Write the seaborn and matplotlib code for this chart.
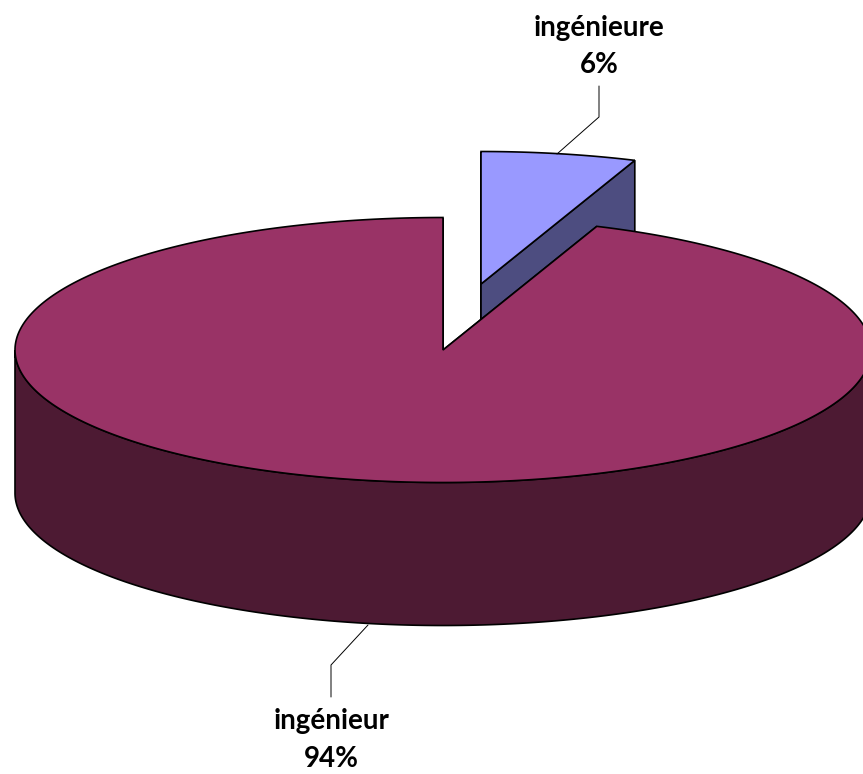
"""3D style pie chart, ingénieur / ingénieure."""

import numpy as np
import matplotlib
matplotlib.use("Agg")
import matplotlib.pyplot as plt
from matplotlib.patches import Polygon
import seaborn as sns

labels = ["ingénieure", "ingénieur"]
shares = [5.85, 94.15]
top_colors = ["#9999FF", "#993366"]
side_colors = ["#4D4D80", "#4D1A33"]

sns.set_theme(style="white")
plt.rcParams["font.family"] = ["Lato", "Liberation Sans", "DejaVu Sans"]

W, H = 863, 774
RX, RY, DEPTH = 428, 132.5, 143
EDGE = "#000000"


def rim(cx, cy, start, end):
    # angles are clockwise from 12 o'clock, in degrees
    t = np.radians(np.linspace(start, end, 400))
    return np.column_stack([cx + RX * np.sin(t), cy - RY * np.cos(t)])


def draw_slice(ax, cx, cy, start, end, top, side):
    arc = rim(cx, cy, start, end)
    shift = np.array([0, DEPTH])
    apex = np.array([[cx, cy]])
    # cut faces first, the outer wall after, top face last
    for a in (arc[0], arc[-1]):
        face = np.array([apex[0], a, a + shift, apex[0] + shift])
        ax.add_patch(Polygon(face, fc=side, ec=EDGE, lw=1.2, zorder=2))
    front = (end > 90) & (start < 270)
    if front:
        wall = rim(cx, cy, max(start, 90), min(end, 270))
        ax.add_patch(Polygon(np.vstack([wall, wall[::-1] + shift]),
                             fc=side, ec=EDGE, lw=1.2, zorder=2))
    ax.add_patch(Polygon(np.vstack([apex, arc]), fc=top, ec=EDGE, lw=1.2, zorder=2))


def main():
    fig = plt.figure(figsize=(W / 100, H / 100), dpi=100, facecolor="white")
    ax = fig.add_axes([0, 0, 1, 1])
    ax.set_xlim(0, W)
    ax.set_ylim(H, 0)
    ax.axis("off")

    sweep = 360 * shares[0] / sum(shares)

    draw_slice(ax, 481, 284, 0, sweep, top_colors[0], side_colors[0])
    draw_slice(ax, 443, 350, sweep, 360, top_colors[1], side_colors[1])

    # leader lines
    ax.plot([557, 599, 599], [154, 117, 86], color=EDGE, lw=0.7, zorder=3)
    ax.plot([368, 331, 331], [625, 665, 697], color=EDGE, lw=0.7, zorder=3)

    font = dict(ha="center", va="center", fontsize=20, fontweight="bold", color="black")
    ax.text(599, 28, labels[0], **font)
    ax.text(599, 65, f"{shares[0]:.0f}%", **font)
    ax.text(332, 721, labels[1], **font)
    ax.text(331, 759, f"{shares[1]:.0f}%", **font)

    fig.savefig("out.png", dpi=100, facecolor="white")
    plt.close(fig)


if __name__ == "__main__":
    main()
